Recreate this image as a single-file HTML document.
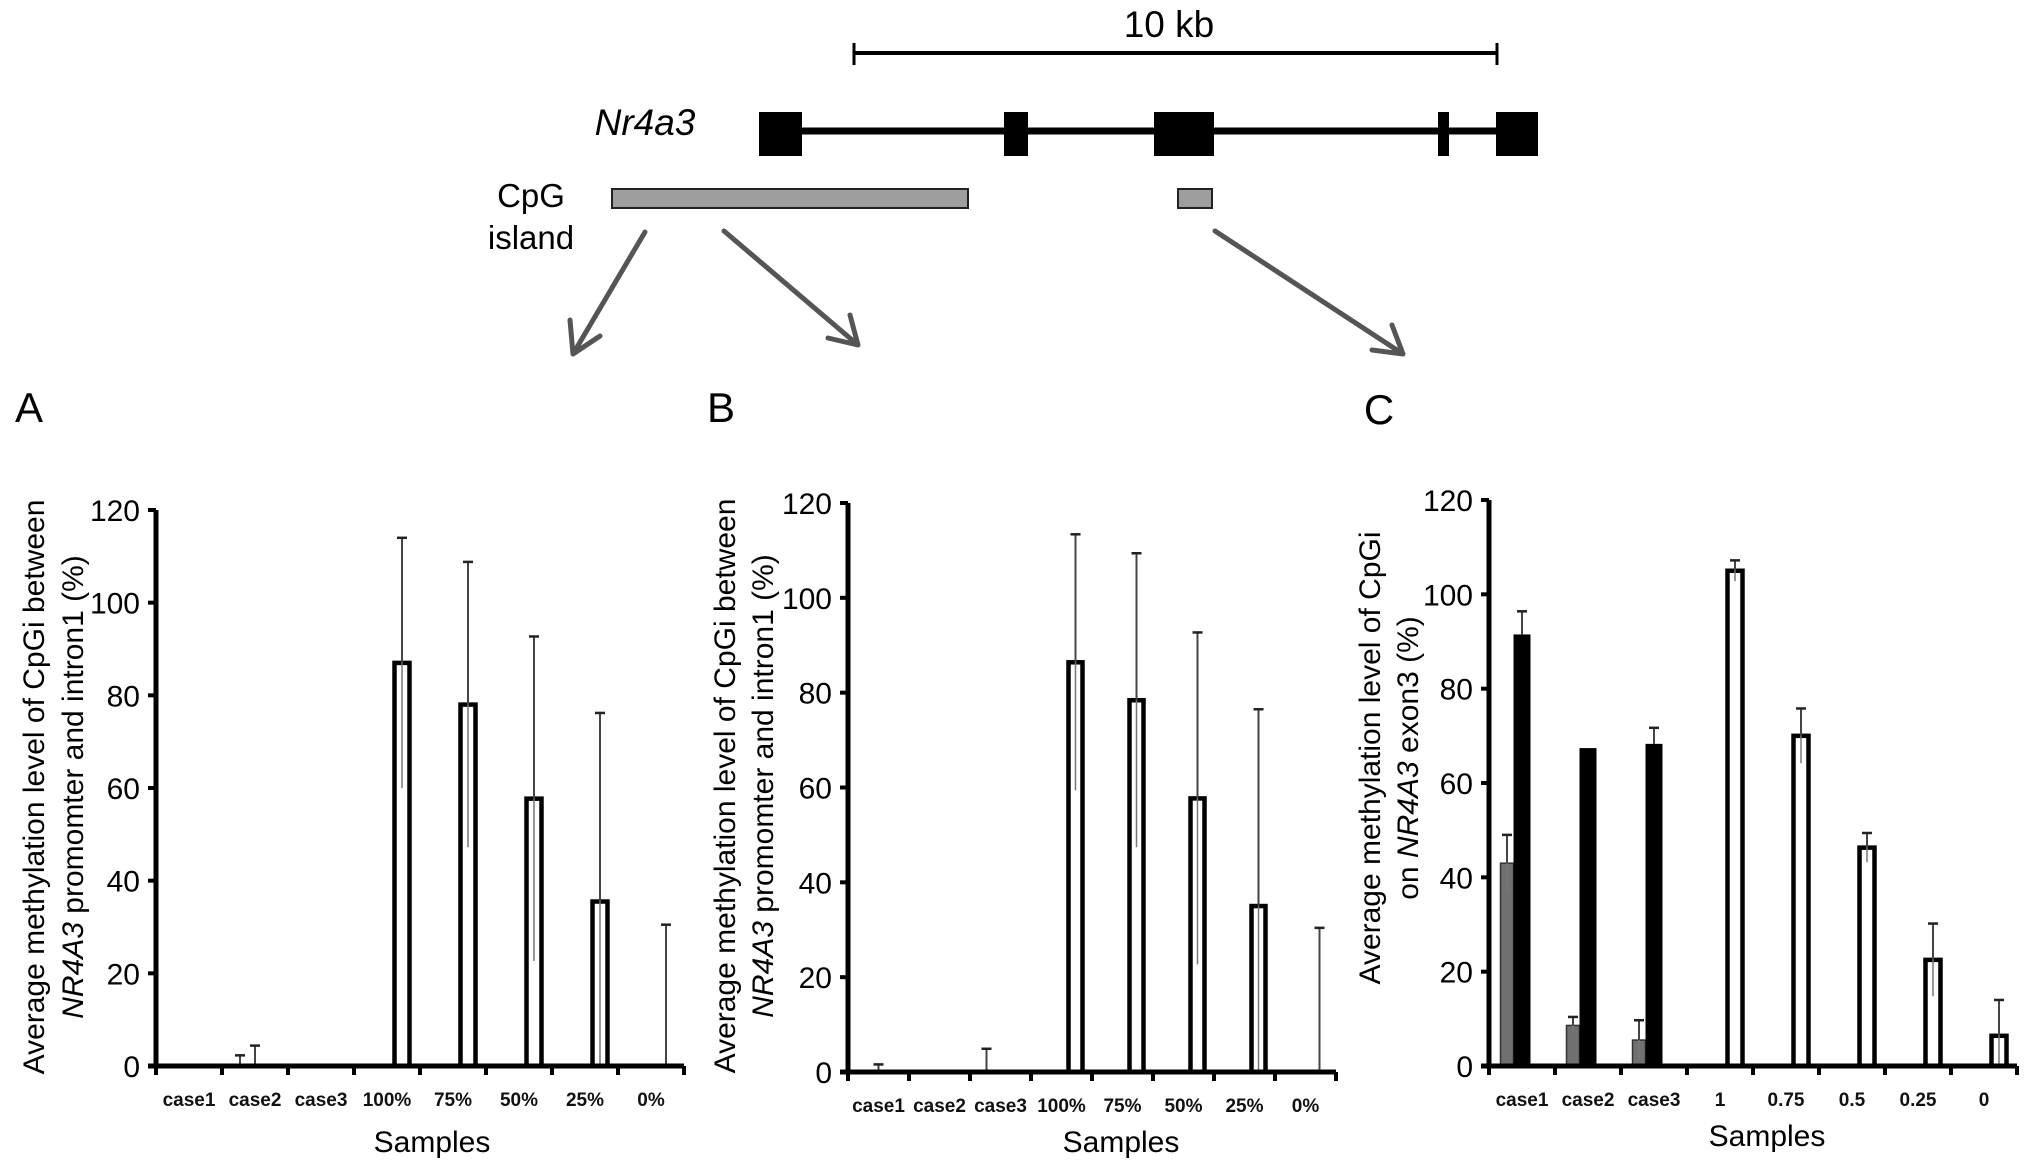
<!DOCTYPE html>
<html><head><meta charset="utf-8"><style>
html,body{margin:0;padding:0;background:#fff;}
svg{display:block;font-family:"Liberation Sans",sans-serif;}
</style></head><body>
<svg id="fig" width="2031" height="1161" viewBox="0 0 2031 1161" xmlns="http://www.w3.org/2000/svg">
<g id="diagram">
  <text x="1169" y="37" font-size="37" text-anchor="middle">10 kb</text>
  <line x1="854" y1="53" x2="1497" y2="53" stroke="#000" stroke-width="4"/>
  <line x1="854" y1="43" x2="854" y2="65" stroke="#000" stroke-width="3"/>
  <line x1="1497" y1="43" x2="1497" y2="65" stroke="#000" stroke-width="3"/>
  <text x="645" y="135" font-size="37" font-style="italic" text-anchor="middle">Nr4a3</text>
  <line x1="780" y1="131" x2="1520" y2="131" stroke="#000" stroke-width="7"/>
  <rect x="759" y="112" width="43" height="44" fill="#000"/>
  <rect x="1004" y="112" width="24" height="44" fill="#000"/>
  <rect x="1154" y="112" width="60" height="44" fill="#000"/>
  <rect x="1438" y="112" width="11" height="44" fill="#000"/>
  <rect x="1496" y="112" width="42" height="44" fill="#000"/>
  <text x="531" y="207" font-size="33" text-anchor="middle">CpG</text>
  <text x="531" y="249" font-size="33" text-anchor="middle">island</text>
  <rect x="612" y="189" width="356" height="19" fill="#9e9e9e" stroke="#222" stroke-width="2"/>
  <rect x="1178" y="189" width="34" height="19" fill="#9e9e9e" stroke="#222" stroke-width="2"/>
  <g stroke="#555" stroke-width="5" fill="none" stroke-linecap="round">
    <path d="M645 232 L573 354 M573 354 L570 320 M573 354 L600 336"/>
    <path d="M724 231 L858 345 M858 345 L828 338 M858 345 L850 315"/>
    <path d="M1215 231 L1403 354 M1403 354 L1372 350 M1403 354 L1392 325"/>
  </g>
  <text x="29" y="422" font-size="42" text-anchor="middle">A</text>
  <text x="721" y="422" font-size="42" text-anchor="middle">B</text>
  <text x="1379" y="424" font-size="42" text-anchor="middle">C</text>
</g>
</svg>
<script>
// ---- Panel A data ----
const catsA = ['case1','case2','case3','100%','75%','50%','25%','0%'];
const grayA = [null,0,null,null,null,null,null,null];
const grayErrA = [0,2.3,0,0,0,0,0,0];
const blackA = [null,0,null,null,null,null,null,null];
const blackErrA = [0,4.4,0,0,0,0,0,0];
const whiteA = [null,null,null,87,78,57.7,35.5,0];
const whiteErrA = [0,0,0,27,30.8,35,40.7,30.5];
// ---- Panel B data ----
const catsB = ['case1','case2','case3','100%','75%','50%','25%','0%'];
const grayB = [null,null,0,null,null,null,null,null];
const grayErrB = [0,0,4.9,0,0,0,0,0];
const blackB = [0,null,null,null,null,null,null,null];
const blackErrB = [1.6,0,0,0,0,0,0,0];
const whiteB = [null,null,null,86.4,78.4,57.7,35,0];
const whiteErrB = [0,0,0,27,31,35,41.5,30.4];
// ---- Panel C data ----
const catsC = ['case1','case2','case3','1','0.75','0.5','0.25','0'];
const grayC = [43,8.6,5.5,null,null,null,null,null];
const grayErrC = [6,1.8,4.2,0,0,0,0,0];
const blackC = [91.5,67.4,68.3,null,null,null,null,null];
const blackErrC = [4.9,0,3.4,0,0,0,0,0];
const whiteC = [null,null,null,105,70,46.3,22.5,6.4];
const whiteErrC = [0,0,0,2.2,5.8,3.1,7.7,7.6];
const yTicks = [0,20,40,60,80,100,120];

const NS='http://www.w3.org/2000/svg';
const svg=document.getElementById('fig');
function mk(tag,attrs,parent){const e=document.createElementNS(NS,tag);for(const k in attrs)e.setAttribute(k,attrs[k]);(parent||svg).appendChild(e);return e;}

function drawPanel(id,L,cats,gray,grayErr,black,blackErr,white,whiteErr,titleLines){
  const g=mk('g',{});
  
  
  const yS=v=>L.y0-(v/120)*(L.y0-L.yTop);
  const xC=i=>L.x0+L.cw*(i+0.5);
  const xEnd=L.x0+L.cw*cats.length;
  function err(x,v,e,down){
    if(!e)return;
    const l=mk('line',{x1:x,y1:yS(v),x2:x,y2:yS(v+e),stroke:'#444','stroke-width':2},g);
    
    
    const c=mk('line',{x1:x-5,y1:yS(v+e),x2:x+5,y2:yS(v+e),stroke:'#222','stroke-width':2.5},g);
    
    
    if(down){
      const d=mk('line',{x1:x,y1:yS(v),x2:x,y2:yS(Math.max(0,v-e)),stroke:'#777','stroke-width':1.5},g);
      
      
    }
  }
  cats.forEach((c,i)=>{
    const cx=xC(i);
    if(gray[i]!==null){
      const x=cx-L.w;
      if(gray[i]>0){const r=mk('rect',{x:x-L.w/2+1,y:yS(gray[i]),width:L.w-2,height:yS(0)-yS(gray[i]),fill:'#707070',stroke:'#333','stroke-width':1.5},g);
        
        }
      err(x,gray[i],grayErr[i],true);
    }
    if(black[i]!==null){
      const x=cx;
      if(black[i]>0){const r=mk('rect',{x:x-L.w/2-1,y:yS(black[i]),width:L.w+2,height:yS(0)-yS(black[i]),fill:'#000'},g);
        
        }
      err(x,black[i],blackErr[i],false);
    }
    if(white[i]!==null){
      const x=cx+L.w;
      if(white[i]>0){const r=mk('rect',{x:x-L.w/2,y:yS(white[i]),width:L.w,height:yS(0)-yS(white[i]),fill:'#fff',stroke:'#000','stroke-width':4.5},g);
        
        }
      err(x,white[i],whiteErr[i],true);
    }
    const t=mk('text',{x:cx,y:L.y0+40,'font-size':19,'font-weight':'bold','text-anchor':'middle',fill:'#111'},g);
    t.textContent=c;
    
    
  });
  const ya=mk('line',{x1:L.x0,y1:L.yTop,x2:L.x0,y2:L.y0+2,stroke:'#000','stroke-width':5},g);
  
  
  const xa=mk('line',{x1:L.x0-8,y1:L.y0,x2:xEnd,y2:L.y0,stroke:'#000','stroke-width':5},g);
  
  
  for(let i=0;i<=cats.length;i++){
    const tk=mk('line',{x1:L.x0+L.cw*i,y1:L.y0,x2:L.x0+L.cw*i,y2:L.y0+9,stroke:'#000','stroke-width':4},g);
    
    
  }
  yTicks.forEach(v=>{
    const tk=mk('line',{x1:L.x0-8,y1:yS(v),x2:L.x0,y2:yS(v),stroke:'#000','stroke-width':4},g);
    
    
    const t=mk('text',{x:L.x0-16,y:yS(v)+11,'font-size':30,'text-anchor':'end'},g);
    t.textContent=v;
    
    
  });
  const s=mk('text',{x:L.sx,y:L.sy,'font-size':30,'text-anchor':'middle'},g);
  s.textContent='Samples';
  
  
  titleLines.forEach((ln,k)=>{
    const t=mk('text',{x:0,y:0,'font-size':30,'text-anchor':'middle',transform:`translate(${L.tx[k]},${L.ty}) rotate(-90)`},g);
    
    
    ln.forEach(seg=>{const ts=mk('tspan',{},t);if(seg[1])ts.setAttribute('font-style','italic');ts.textContent=seg[0];});
  });
}
const tAB=[[['Average methylation level of CpGi between',0]],[['NR4A3',1],[' promomter and intron1 (%)',0]]];
const tC=[[['Average methylation level of CpGi',0]],[['on ',0],['NR4A3',1],[' exon3  (%)',0]]];
drawPanel('a',{x0:156,y0:1066,yTop:510,cw:66,w:15,sx:432,sy:1152,tx:[44,83],ty:787},catsA,grayA,grayErrA,blackA,blackErrA,whiteA,whiteErrA,tAB);
drawPanel('b',{x0:848,y0:1072,yTop:503,cw:61,w:14,sx:1121,sy:1152,tx:[735,773],ty:786},catsB,grayB,grayErrB,blackB,blackErrB,whiteB,whiteErrB,tAB);
drawPanel('c',{x0:1489,y0:1066,yTop:500,cw:66,w:15,sx:1767,sy:1146,tx:[1380,1418],ty:758},catsC,grayC,grayErrC,blackC,blackErrC,whiteC,whiteErrC,tC);
</script>
</body></html>
